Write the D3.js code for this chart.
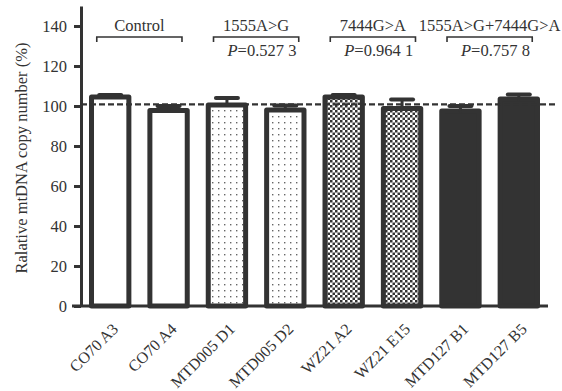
<!DOCTYPE html>
<html>
<head>
<meta charset="utf-8">
<script src="https://cdn.jsdelivr.net/npm/d3@7"></script>
<style>
  body { margin: 0; background: #fff; }
  text { font-family: "Liberation Serif", "Times New Roman", serif; fill: #333; }
</style>
</head>
<body>
<svg id="chart" width="562" height="391"></svg>
<script>
// data
var samples = ["CO70 A3", "CO70 A4", "MTD005 D1", "MTD005 D2", "WZ21 A2", "WZ21 E15", "MTD127 B1", "MTD127 B5"];
var means   = [104.5, 97.8, 100.5, 98, 104.5, 98.7, 97.5, 103.5];
var errTop  = [105.5, 100, 104, 100.2, 105.5, 103.3, 100, 105.8];
var fills   = ["white", "white", "dots", "dots", "checker", "checker", "solid", "solid"];
var groupNames = ["Control", "1555A>G", "7444G>A", "1555A>G+7444G>A"];
var groupP     = [null, "0.527 3", "0.964 1", "0.757 8"];
var yTicks = [0, 20, 40, 60, 80, 100, 120, 140];
var refLevel = 100.8;

var ink = "#333";
var svg = d3.select("#chart");

// patterns
var defs = svg.append("defs");
var dots = defs.append("pattern").attr("id", "dots")
    .attr("patternUnits", "userSpaceOnUse").attr("width", 6).attr("height", 6);
dots.append("rect").attr("width", 6).attr("height", 6).attr("fill", "#fff");
dots.append("rect").attr("x", 2).attr("y", 2).attr("width", 1.4).attr("height", 1.4).attr("fill", "#666");

var checker = defs.append("pattern").attr("id", "checker")
    .attr("patternUnits", "userSpaceOnUse").attr("width", 5).attr("height", 5);
checker.append("rect").attr("width", 5).attr("height", 5).attr("fill", "#fff");
checker.append("rect").attr("width", 2.5).attr("height", 2.5).attr("fill", ink);
checker.append("rect").attr("x", 2.5).attr("y", 2.5).attr("width", 2.5).attr("height", 2.5).attr("fill", ink);

function fillFor(f) {
  if (f == "dots") return "url(#dots)";
  if (f == "checker") return "url(#checker)";
  if (f == "solid") return ink;
  return "#fff";
}

// scales
var x = d3.scaleBand().domain(samples).range([81, 548]).paddingInner(0.36).paddingOuter(0.18);
var y = d3.scaleLinear().domain([0, 150]).range([306, 6]);

// bars
svg.append("g").selectAll("rect")
    .data(samples)
  .enter().append("rect")
    .attr("x", function(d) { return x(d); })
    .attr("y", function(d, i) { return y(means[i]); })
    .attr("width", x.bandwidth())
    .attr("height", function(d, i) { return y(0) - y(means[i]); })
    .attr("fill", function(d, i) { return fillFor(fills[i]); })
    .attr("stroke", ink)
    .attr("stroke-width", 5)
    .attr("stroke-linejoin", "round");

// error bars (upper half only visible)
var eb = svg.append("g").attr("stroke", ink).attr("stroke-linecap", "round");
samples.forEach(function(d, i) {
  var cx = x(d) + x.bandwidth() / 2;
  eb.append("line").attr("x1", cx).attr("x2", cx)
    .attr("y1", y(means[i])).attr("y2", y(errTop[i])).attr("stroke-width", 3);
  eb.append("line").attr("x1", cx - 11).attr("x2", cx + 11)
    .attr("y1", y(errTop[i])).attr("y2", y(errTop[i])).attr("stroke-width", 4);
});

// reference line
svg.append("line")
    .attr("x1", 81).attr("x2", 556)
    .attr("y1", y(refLevel)).attr("y2", y(refLevel))
    .attr("stroke", ink).attr("stroke-width", 2.2)
    .attr("stroke-dasharray", "6,3");

// y axis
var yAxis = svg.append("g")
    .attr("transform", "translate(81,0)")
    .call(d3.axisLeft(y).tickValues(yTicks).tickSize(7).tickSizeOuter(0).tickPadding(7));
yAxis.select(".domain").attr("stroke", ink).attr("stroke-width", 3);
yAxis.selectAll(".tick line").attr("stroke", ink).attr("stroke-width", 3);
yAxis.selectAll(".tick text").attr("font-size", "16.5px").attr("font-family", null).attr("fill", ink);

// x axis
var xAxis = svg.append("g")
    .attr("transform", "translate(0," + y(0) + ")")
    .call(d3.axisBottom(x).tickSize(0).tickSizeOuter(0));
xAxis.select(".domain").remove();
xAxis.selectAll(".tick text")
    .attr("font-size", "16px").attr("font-family", null).attr("fill", ink)
    .attr("text-anchor", "end")
    .attr("y", 0).attr("dy", 0)
    .attr("transform", "translate(9,24) rotate(-45)");
svg.append("line")
    .attr("x1", 72).attr("x2", 548)
    .attr("y1", y(0)).attr("y2", y(0))
    .attr("stroke", ink).attr("stroke-width", 3);

// y axis title
svg.append("text")
    .attr("transform", "translate(27,158) rotate(-90)")
    .attr("text-anchor", "middle")
    .attr("font-size", "16.5px")
    .text("Ralative mtDNA copy number (%)");

// group brackets
var step = x.step();
groupNames.forEach(function(name, g) {
  var a = samples[g * 2], b = samples[g * 2 + 1];
  var x0 = x(a) + x.bandwidth() / 2 - 0.23 * step;
  var x1 = x(b) + x.bandwidth() / 2 + 0.23 * step;
  svg.append("path")
      .attr("d", "M" + x0 + ",42V37H" + x1 + "V42")
      .attr("fill", "none").attr("stroke", ink).attr("stroke-width", 1.6);
  svg.append("text")
      .attr("x", (x0 + x1) / 2).attr("y", 31)
      .attr("text-anchor", "middle")
      .attr("font-size", "16.5px")
      .text(name);
  if (groupP[g]) {
    var t = svg.append("text")
        .attr("x", x0 + 14).attr("y", 56)
        .attr("font-size", "16.5px");
    t.append("tspan").attr("font-style", "italic").text("P");
    t.append("tspan").text("=" + groupP[g]);
  }
});
</script>
</body>
</html>
